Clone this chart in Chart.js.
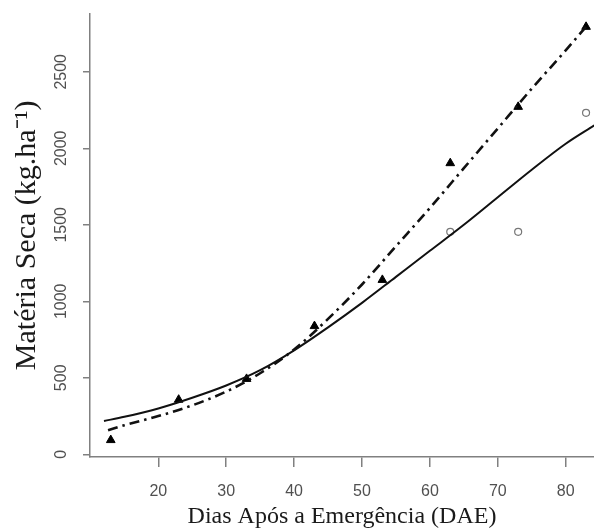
<!DOCTYPE html>
<html>
<head>
<meta charset="utf-8">
<script src="https://cdn.jsdelivr.net/npm/chart.js@4"></script>
<style>
  html, body { margin: 0; padding: 0; background: #fff; }
  #wrap { width: 594px; height: 531px; }
</style>
</head>
<body>
<div id="wrap"><canvas id="chart"></canvas></div>
<script>
// Observed points (days after emergence)
const days = [13, 23, 33, 43, 53, 63, 73, 83];
const triangleValues = [93, 357, 493, 838, 1140, 1903, 2271, 2794];
const circleValues = [null, null, null, null, null, 1454, 1454, 2232];

// Fitted curves
const solidX = [12, 15, 20, 25, 30, 35, 40, 45, 50, 55, 60, 65, 70, 75, 80, 84.2];
const solidFit = [218, 245, 300, 370, 450, 550, 680, 830, 990, 1160, 1330, 1500, 1680, 1860, 2030, 2150];
const dashX = [12.6, 15, 20, 25, 30, 35, 40, 45, 50, 55, 60, 65, 70, 75, 80, 83];
const dashFit = [157, 190, 250, 320, 410, 530, 685, 885, 1110, 1360, 1610, 1870, 2130, 2390, 2640, 2795];

// Axis ticks
const xTicks = [20, 30, 40, 50, 60, 70, 80];
const yTicks = [0, 500, 1000, 1500, 2000, 2500];

const toPoints = (xs, ys) => xs.map((x, i) => ({ x: x, y: ys[i] }));

const axisGrey = '#808080';
const tickText = '#505050';

new Chart(document.getElementById('chart').getContext('2d'), {
    type: 'scatter',
    data: {
        datasets: [
            {
                label: 'ajuste 1',
                data: toPoints(solidX, solidFit),
                showLine: true,
                borderColor: '#111',
                borderWidth: 2,
                pointRadius: 0,
                cubicInterpolationMode: 'monotone'
            },
            {
                label: 'ajuste 2',
                data: toPoints(dashX, dashFit),
                showLine: true,
                borderColor: '#111',
                borderWidth: 2.6,
                borderDash: [10, 5, 2.5, 5],
                pointRadius: 0,
                cubicInterpolationMode: 'monotone'
            },
            {
                label: 'tratamento 1',
                data: toPoints(days, circleValues),
                pointStyle: 'circle',
                pointRadius: 3.5,
                borderColor: '#777',
                borderWidth: 1.2,
                backgroundColor: '#fff'
            },
            {
                label: 'tratamento 2',
                data: toPoints(days, triangleValues),
                pointStyle: 'triangle',
                pointRadius: 5,
                borderColor: '#000',
                borderWidth: 1,
                backgroundColor: '#000'
            }
        ]
    },
    options: {
        responsive: true,
        maintainAspectRatio: false,
        animation: false,
        layout: { autoPadding: false, padding: { left: 0, right: 0, top: 10, bottom: 0 } },
        plugins: {
            legend: { display: false },
            tooltip: { enabled: false }
        },
        scales: {
            x: {
                type: 'linear',
                min: 9.94,
                max: 84.17,
                afterBuildTicks: s => { s.ticks = xTicks.map(v => ({ value: v })); },
                afterFit: s => { s.height = 74; },
                border: { display: true, color: axisGrey, width: 1.5 },
                grid: { display: true, drawOnChartArea: false, drawTicks: true, tickLength: 10, color: axisGrey, lineWidth: 1.5 },
                ticks: { color: tickText, padding: 15, font: { family: 'Liberation Sans', size: 16 } },
                title: {
                    display: true,
                    text: 'Dias Após a Emergência (DAE)',
                    color: '#1a1a1a',
                    font: { family: 'Liberation Serif', size: 24 },
                    padding: { top: 0, bottom: 0 }
                }
            },
            y: {
                type: 'linear',
                min: -17.5,
                max: 2880.5,
                afterBuildTicks: s => { s.ticks = yTicks.map(v => ({ value: v })); },
                afterFit: s => { s.width = 90; },
                border: { display: true, color: axisGrey, width: 1.5 },
                grid: { display: true, drawOnChartArea: false, drawTicks: true, tickLength: 7, color: axisGrey, lineWidth: 1.5 },
                ticks: {
                    color: tickText,
                    padding: 4,
                    minRotation: 90,
                    maxRotation: 90,
                    crossAlign: 'center',
                    font: { family: 'Liberation Sans', size: 16 },
                    callback: v => String(v)
                },
                title: {
                    display: true,
                    text: 'Matéria Seca (kg.ha⁻¹)',
                    color: '#1a1a1a',
                    font: { family: 'Liberation Serif', size: 30 },
                    padding: { top: 9, bottom: 0 }
                }
            }
        }
    }
});
</script>
</body>
</html>
